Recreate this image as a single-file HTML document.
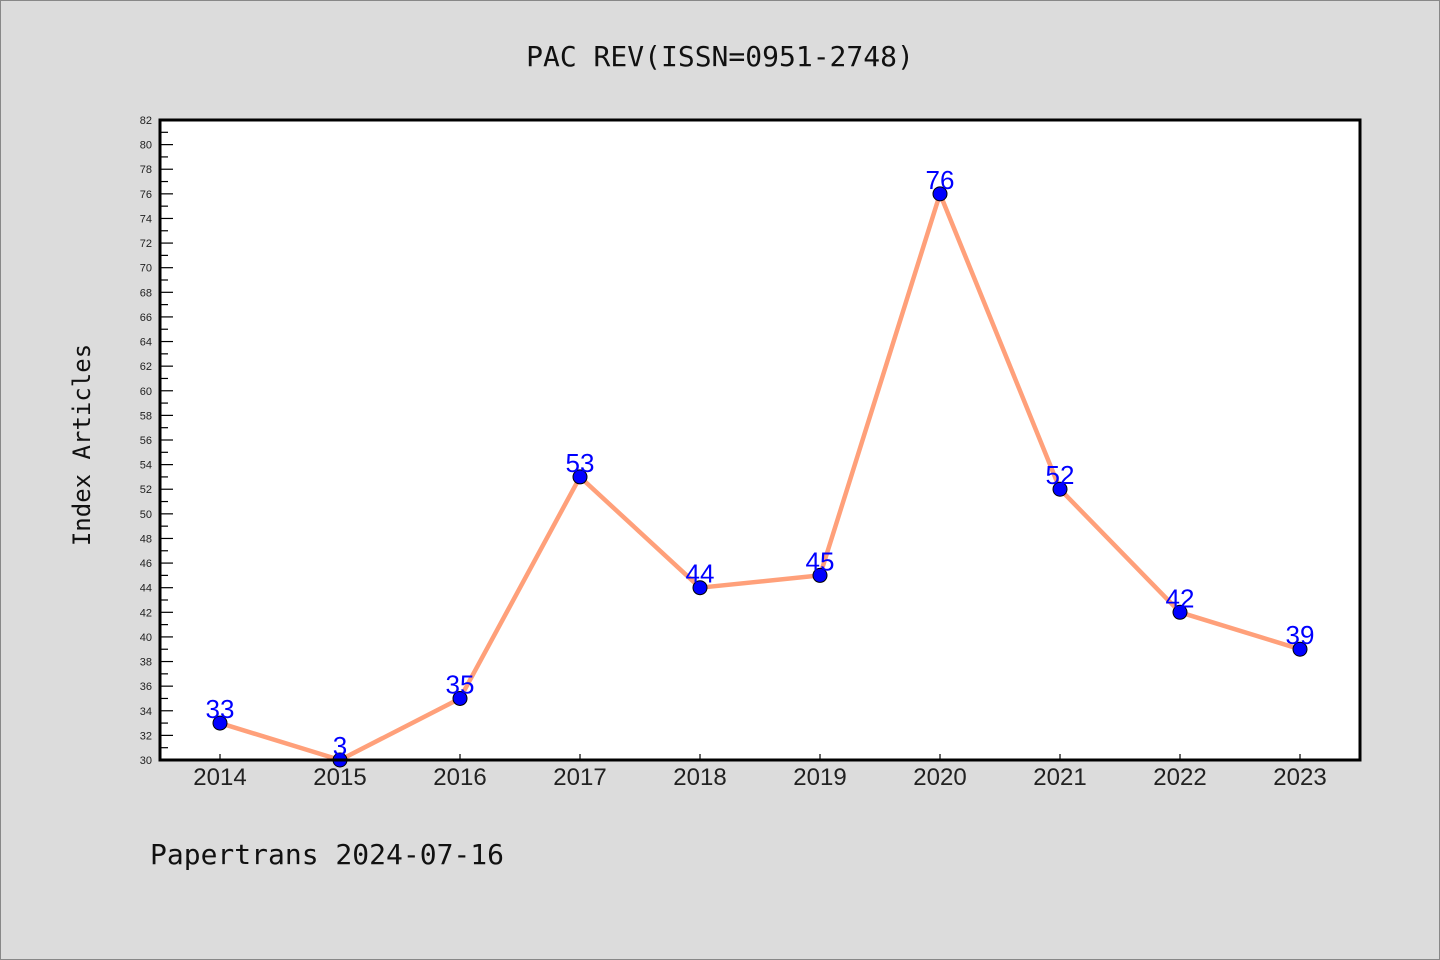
<!DOCTYPE html>
<html><head><meta charset="utf-8"><style>
body{margin:0;background:#dcdcdc;}
svg{display:block;font-family:"Liberation Sans","DejaVu Sans",sans-serif;}
</style></head><body>
<svg width="1440" height="960" xmlns="http://www.w3.org/2000/svg">
<rect x="0.5" y="0.5" width="1439" height="959" fill="#dcdcdc" stroke="#888"/>
<text x="720" y="66" text-anchor="middle" font-size="28" font-family="DejaVu Sans Mono, Liberation Mono, monospace" fill="#111">PAC REV(ISSN=0951-2748)</text>
<text transform="translate(90,445) rotate(-90)" text-anchor="middle" font-size="24" font-family="DejaVu Sans Mono, Liberation Mono, monospace" fill="#111">Index Articles</text>
<text x="150" y="864" font-size="28" font-family="DejaVu Sans Mono, Liberation Mono, monospace" fill="#111">Papertrans 2024-07-16</text>
<rect x="160" y="120" width="1200" height="640" fill="#fff"/>
<g id="yaxis"></g><g id="xaxis"></g><g id="series"></g>
<rect x="160" y="120" width="1200" height="640" fill="none" stroke="#000" stroke-width="3"/>
</svg>
<script>
const categories=["2014","2015","2016","2017","2018","2019","2020","2021","2022","2023"];
const values=[33,3,35,53,44,45,76,52,42,39];
const yMin=30,yMax=82;
const NS="http://www.w3.org/2000/svg";
const x0=160,x1=1360,y0=760,y1=120;
function xs(i){return 220+i*120;}
function ys(v){v=Math.max(yMin,Math.min(yMax,v));return y0-(v-yMin)/(yMax-yMin)*(y0-y1);}
function mk(t,a,p){const e=document.createElementNS(NS,t);for(const k in a)e.setAttribute(k,a[k]);p.appendChild(e);return e;}
const ya=document.getElementById('yaxis');
for(let v=yMin;v<=yMax;v++){
 const y=ys(v),maj=v%2===0;
 const l=mk('line',{x1:x0,x2:x0+(maj?13:8),y1:y,y2:y,stroke:'#000','stroke-width':1.2},ya);
 
 
 if(maj){const t=mk('text',{x:152,y:y+4,'text-anchor':'end','font-size':11,fill:'#222'},ya);t.textContent=v;
 
 }
}
const xa=document.getElementById('xaxis');
categories.forEach((c,i)=>{
 const x=xs(i);
 const l=mk('line',{x1:x,x2:x,y1:y0,y2:y0-6,stroke:'#000','stroke-width':1.2},xa);
 
 
 const t=mk('text',{x:x,y:785,'text-anchor':'middle','font-size':24,fill:'#222'},xa);t.textContent=c;
 
 
});
const s=document.getElementById('series');
const pl=mk('polyline',{points:values.map((v,i)=>xs(i)+','+ys(v)).join(' '),fill:'none',stroke:'#ffa07a','stroke-width':4.5,'stroke-linejoin':'round'},s);


values.forEach((v,i)=>{
 const c=mk('circle',{cx:xs(i),cy:ys(v),r:7,fill:'#0000ff',stroke:'#000','stroke-width':1},s);
 
 
 const t=mk('text',{x:xs(i),y:ys(v)-5,'text-anchor':'middle','font-size':26,fill:'#0000ff'},s);t.textContent=v;
 
 
});
</script>
</body></html>
